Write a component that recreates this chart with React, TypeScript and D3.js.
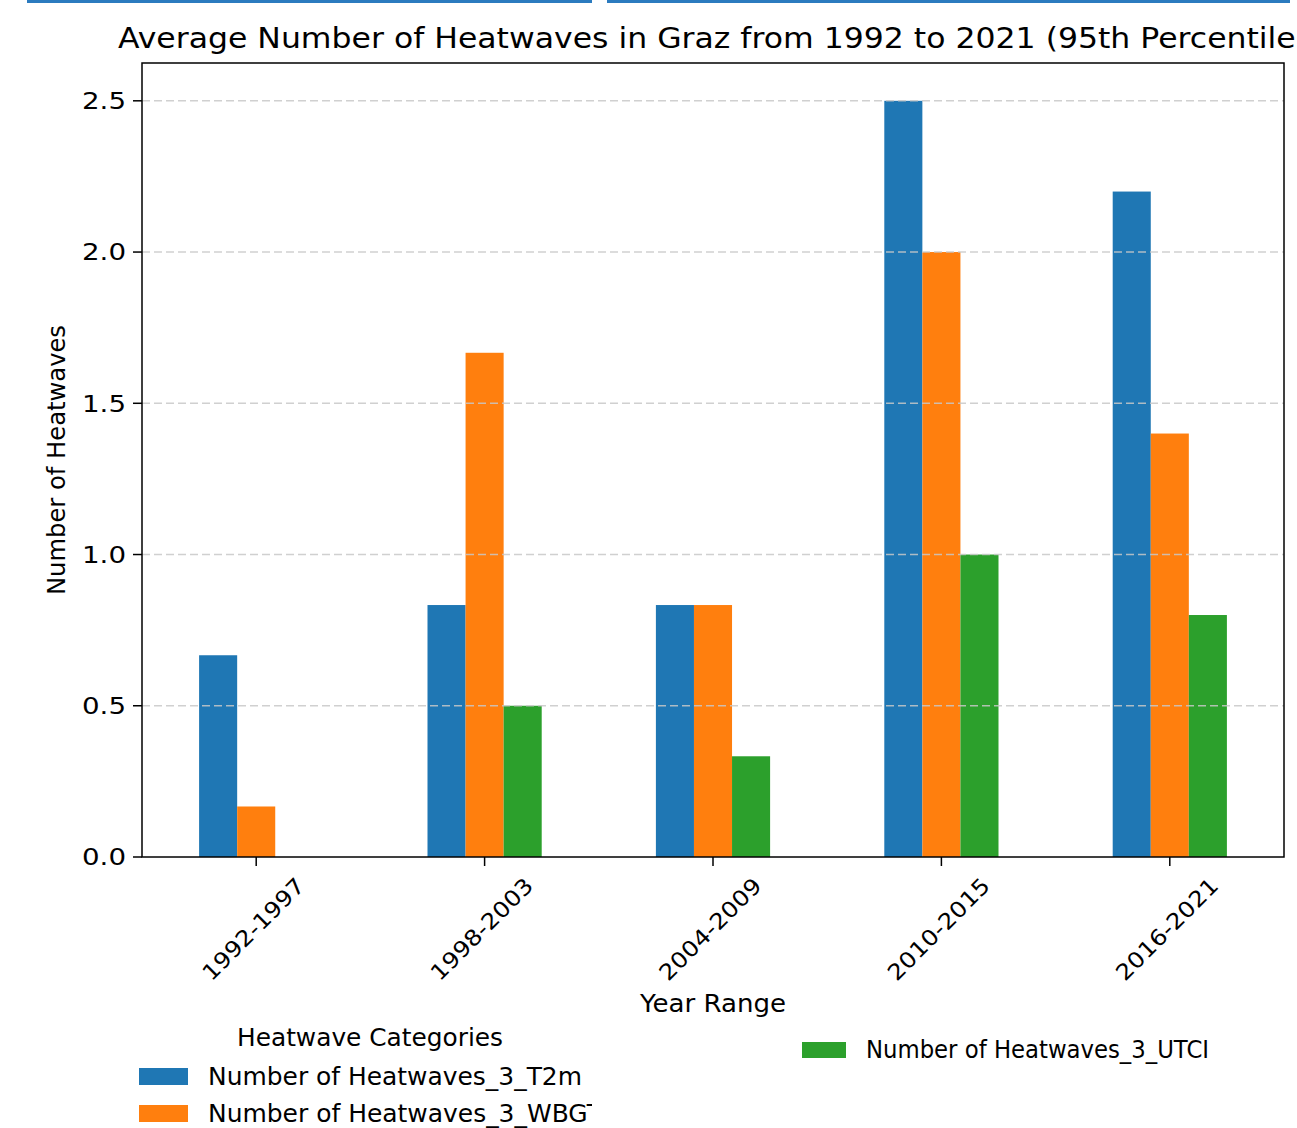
import React from "react";
import * as d3 from "d3";

// Year ranges on the x axis
const categories = ["1992-1997", "1998-2003", "2004-2009", "2010-2015", "2016-2021"];

// Average heatwave counts per index
const seriesNames = [
  "Number of Heatwaves_3_T2m",
  "Number of Heatwaves_3_WBGT",
  "Number of Heatwaves_3_UTCI",
];
const t2mValues = [0.667, 0.833, 0.833, 2.5, 2.2];
const wbgtValues = [0.167, 1.667, 0.833, 2.0, 1.4];
const utciValues = [0.0, 0.5, 0.333, 1.0, 0.8];
const seriesColors = ["#1f77b4", "#ff7f0e", "#2ca02c"];

const yTicks = [0, 0.5, 1.0, 1.5, 2.0, 2.5];

const W = 1297;
const H = 1128;
const FONT = "'DejaVu Sans', sans-serif";

export default function App() {
  const left = 142;
  const right = 1284;
  const top = 63;
  const bottom = 857;

  const allSeries = [t2mValues, wbgtValues, utciValues];
  const yMax = d3.max(allSeries.flat())! * 1.05;

  const x = d3.scaleLinear().domain([-0.5, categories.length - 0.5]).range([left, right]);
  const y = d3.scaleLinear().domain([0, yMax]).range([bottom, top]);

  const groupWidth = 0.5;
  const barW = groupWidth / allSeries.length;

  return (
    <svg
      width={W}
      height={H}
      style={{ position: "absolute", left: 0, top: 0, background: "#fff" }}
      fontFamily={FONT}
    >
      <defs>
        <clipPath id="leftCol">
          <rect x={0} y={0} width={592} height={H} />
        </clipPath>
      </defs>
      <rect x={0} y={0} width={W} height={H} fill="#fff" />

      {/* header rules */}
      <rect x={27} y={0} width={565} height={3} fill="#2b7bbf" />
      <rect x={607} y={0} width={683} height={3} fill="#2b7bbf" />

      {/* title */}
      <text
        x={(left + right) / 2}
        y={48}
        textAnchor="middle"
        fontSize={29}
        fill="#000"
        textLength={1190}
        lengthAdjust="spacingAndGlyphs"
      >
        Average Number of Heatwaves in Graz from 1992 to 2021 (95th Percentile)
      </text>

      {/* bars */}
      {allSeries.map((vals, si) =>
        vals.map((v, ci) => {
          const cx = ci + (si - (allSeries.length - 1) / 2) * barW;
          const x0 = x(cx - barW / 2);
          const x1 = x(cx + barW / 2);
          return (
            <rect
              key={`${si}-${ci}`}
              x={x0}
              y={y(v)}
              width={x1 - x0}
              height={y(0) - y(v)}
              fill={seriesColors[si]}
            />
          );
        })
      )}

      {/* horizontal grid */}
      {yTicks
        .filter((t) => t > 0)
        .map((t) => (
          <line
            key={`g${t}`}
            x1={left}
            x2={right}
            y1={y(t)}
            y2={y(t)}
            stroke="#c8c8c8"
            strokeOpacity={0.85}
            strokeWidth={1.5}
            strokeDasharray="8,4"
          />
        ))}

      {/* frame */}
      <rect
        x={left}
        y={top}
        width={right - left}
        height={bottom - top}
        fill="none"
        stroke="#000"
        strokeWidth={1.5}
      />

      {/* y axis */}
      {yTicks.map((t) => (
        <g key={`y${t}`}>
          <line x1={left - 9} x2={left} y1={y(t)} y2={y(t)} stroke="#000" strokeWidth={1.5} />
          <text
            x={left - 16}
            y={y(t)}
            dy="0.36em"
            textAnchor="end"
            fontSize={23}
            textLength={44}
            lengthAdjust="spacingAndGlyphs"
          >
            {t.toFixed(1)}
          </text>
        </g>
      ))}
      <text
        transform={`translate(65, ${(top + bottom) / 2}) rotate(-90)`}
        textAnchor="middle"
        fontSize={24}
        textLength={270}
        lengthAdjust="spacingAndGlyphs"
      >
        Number of Heatwaves
      </text>

      {/* x axis */}
      {categories.map((c, i) => (
        <g key={c}>
          <line x1={x(i)} x2={x(i)} y1={bottom} y2={bottom + 9} stroke="#000" strokeWidth={1.5} />
          <text
            transform={`translate(${x(i) - 3}, ${929}) rotate(-45)`}
            textAnchor="middle"
            dy="0.36em"
            fontSize={22}
            textLength={134}
            lengthAdjust="spacingAndGlyphs"
          >
            {c}
          </text>
        </g>
      ))}
      <text
        x={(left + right) / 2}
        y={1012}
        textAnchor="middle"
        fontSize={24}
        textLength={146}
        lengthAdjust="spacingAndGlyphs"
      >
        Year Range
      </text>

      {/* legend */}
      <text
        x={370}
        y={1046}
        textAnchor="middle"
        fontSize={24}
        textLength={266}
        lengthAdjust="spacingAndGlyphs"
      >
        Heatwave Categories
      </text>
      <g clipPath="url(#leftCol)">
        <rect x={139} y={1068} width={49} height={17} fill={seriesColors[0]} />
        <text x={208} y={1085} fontSize={24} textLength={374} lengthAdjust="spacingAndGlyphs">
          {seriesNames[0]}
        </text>
        <rect x={139} y={1105} width={49} height={17} fill={seriesColors[1]} />
        <text x={208} y={1122} fontSize={24} textLength={394} lengthAdjust="spacingAndGlyphs">
          {seriesNames[1]}
        </text>
      </g>
      <rect x={802} y={1042} width={44} height={16} fill={seriesColors[2]} />
      <text x={866} y={1058} fontSize={24} textLength={343} lengthAdjust="spacingAndGlyphs">
        {seriesNames[2]}
      </text>
    </svg>
  );
}
